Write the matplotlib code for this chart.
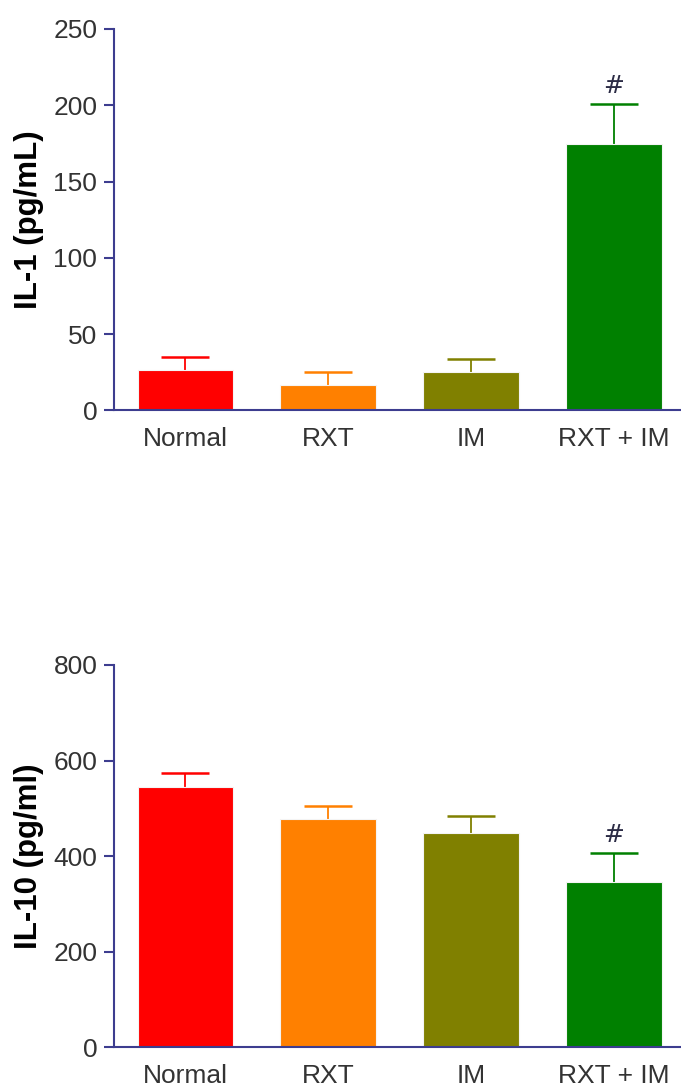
import matplotlib
matplotlib.use("Agg")
import matplotlib.pyplot as plt

groups = ["Normal", "RXT", "IM", "RXT + IM"]
colors = ["#ff0000", "#ff8000", "#808000", "#008000"]

il1_mean = [26.2, 16.6, 25.1, 174.5]
il1_sem = [9.0, 8.3, 8.6, 26.5]
il1_ticks = [0, 50, 100, 150, 200, 250]

il10_mean = [544, 478, 449, 345]
il10_sem = [31, 27, 34, 61]
il10_ticks = [0, 200, 400, 600, 800]

sig_marks = ["", "", "", "#"]

axis_color = "#3d3d8f"
text_color = "#333333"

plt.rcParams["font.family"] = ["Liberation Sans", "DejaVu Sans"]

fig = plt.figure(figsize=(6.81, 10.86), dpi=100)
ax_top = fig.add_axes([0.1674, 0.6222, 0.8326, 0.3511])
ax_bot = fig.add_axes([0.1674, 0.0356, 0.8326, 0.3521])


def draw_panel(ax, means, sems, ticks, ylabel, top):
    x = list(range(len(groups)))
    ax.bar(x, means, width=0.67, color=colors, edgecolor="#f4f4f4",
           linewidth=0.8, zorder=2)
    for xi, m, s, c, mark in zip(x, means, sems, colors, sig_marks):
        _, caps, _ = ax.errorbar(xi, m, yerr=[[0], [s]], fmt="none", ecolor=c,
                                 elinewidth=1.3, capsize=17, capthick=1.8,
                                 zorder=1)
        # only the upper cap is shown
        caps[0].set_visible(False)
        if mark:
            ax.text(xi, m + s + top * 0.016, mark, ha="center", va="bottom",
                    fontsize=18, color="#2b2b45", family="DejaVu Sans")
    ax.set_xlim(-0.5, 3.47)
    ax.set_ylim(0, top)
    ax.set_yticks(ticks)
    ax.set_xticks(x)
    ax.set_xticklabels(groups)
    for side in ("top", "right"):
        ax.spines[side].set_visible(False)
    for side in ("left", "bottom"):
        ax.spines[side].set_color(axis_color)
        ax.spines[side].set_linewidth(1.5)
    ax.tick_params(axis="y", direction="out", length=7, width=1.5,
                   color=axis_color, labelsize=19, labelcolor=text_color, pad=5)
    ax.tick_params(axis="x", length=0, labelsize=19, labelcolor=text_color,
                   pad=12)
    ax.set_ylabel(ylabel, fontsize=22.5, fontweight="bold", color="black",
                  labelpad=7)
    ax.spines["left"].set_bounds(0, top)


draw_panel(ax_top, il1_mean, il1_sem, il1_ticks, "IL-1 (pg/mL)", 250)
draw_panel(ax_bot, il10_mean, il10_sem, il10_ticks, "IL-10 (pg/ml)", 800)

fig.savefig("out.png", dpi=100)
